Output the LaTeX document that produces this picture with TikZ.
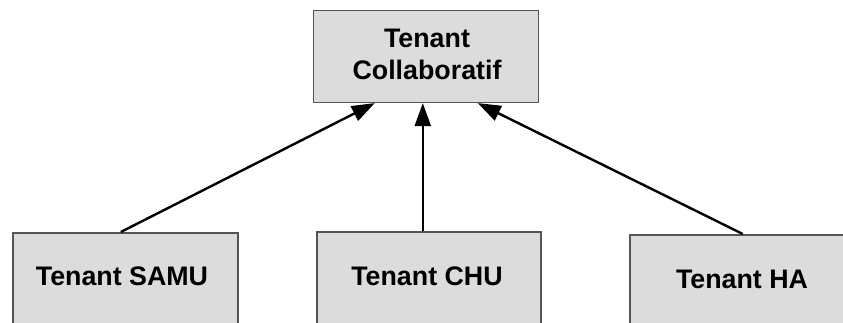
\documentclass[tikz,border=0pt]{standalone}
\usepackage{fontspec}
\setmainfont{Liberation Sans}
\usetikzlibrary{arrows.meta}
\definecolor{boxfill}{HTML}{DCDCDC}
\definecolor{boxline}{HTML}{555555}
\tikzset{
  box/.style={draw=boxline, line width=1.6pt, fill=boxfill, inner sep=0pt, anchor=north west},
  lbl/.style={font=\bfseries\fontsize{26.8}{32}\selectfont, text=black, inner sep=0pt, align=center},
  arr/.style={line width=2.4pt, -{Triangle[length=23pt,width=16pt]}}
}
\begin{document}
\begin{tikzpicture}[x=1pt,y=-1pt]
\clip (0,0) rectangle (843,322);
\fill[white] (0,0) rectangle (843,322);
\node[box, minimum width=225pt, minimum height=92pt] (top) at (312.5,9.5) {};
\node[box, minimum width=225pt, minimum height=110pt] (samu) at (12,232) {};
\node[box, minimum width=224pt, minimum height=110pt] (chu) at (316,231) {};
\node[box, minimum width=231pt, minimum height=110pt] (ha) at (629,234) {};
\node[lbl] (toptxt) at (427,54) {Tenant\\Collaboratif};
\node[lbl] (samutxt) at (122,276) {Tenant SAMU};
\node[lbl] (chutxt) at (427,276) {Tenant CHU};
\node[lbl] (hatxt) at (742,279) {Tenant HA};
\draw[arr] ([xshift=-4.5pt]samu.north) -- ([xshift=-51pt]top.south);
\draw[arr] ([xshift=-6pt]chu.north) -- ([xshift=-3pt]top.south);
\draw[arr] ([xshift=-2.5pt]ha.north) -- ([xshift=52pt]top.south);
\end{tikzpicture}
\end{document}
